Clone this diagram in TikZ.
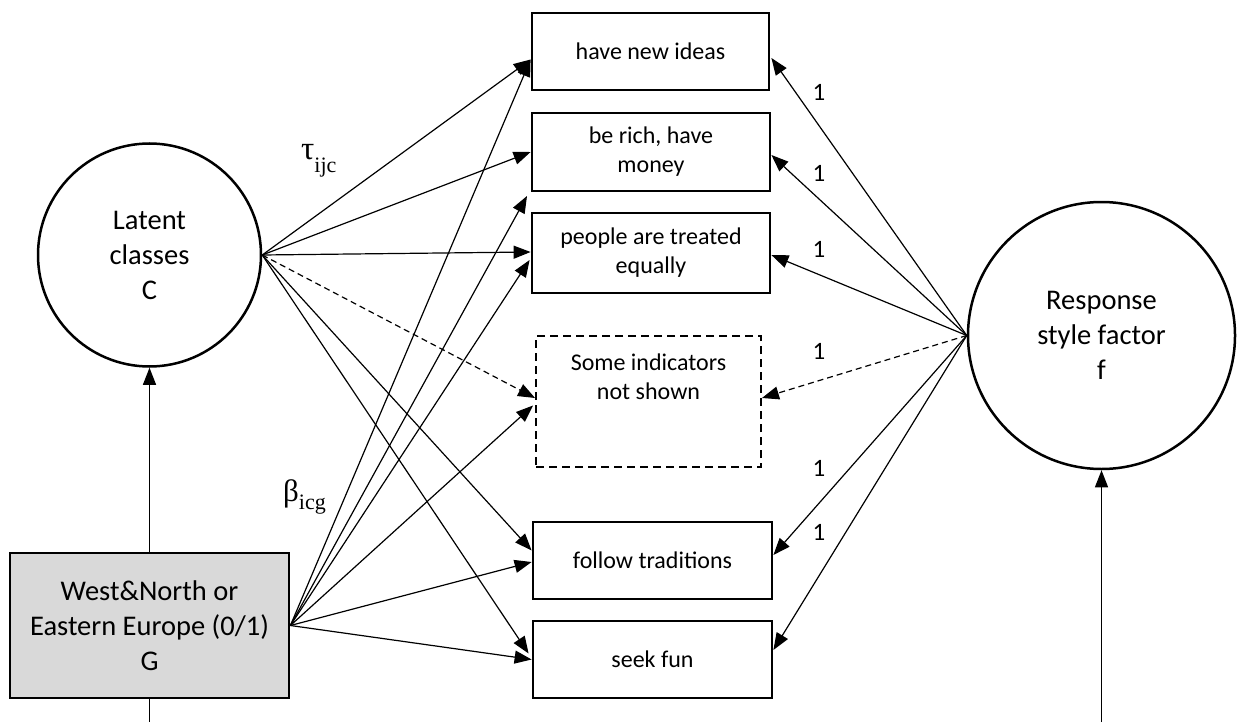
\documentclass[tikz,border=0pt]{standalone}
\usepackage{fontspec}
\setmainfont{Carlito}
\newfontfamily\serifgr{Liberation Serif}
\usetikzlibrary{arrows.meta}
\definecolor{gfill}{HTML}{D9D9D9}
\begin{document}
\begin{tikzpicture}[x=1pt,y=-1pt,
  itembox/.style={draw, line width=2.8pt, minimum width=237pt, minimum height=77pt, inner sep=0pt, align=center, font=\fontsize{24}{29}\selectfont},
  dashbox/.style={draw, line width=1.9pt, dash pattern=on 8pt off 5pt, minimum width=225pt, minimum height=131pt, inner sep=0pt},
  bigcirc/.style={draw, circle, line width=2.5pt, inner sep=0pt, align=center, font=\fontsize{28.5}{35}\selectfont},
  groupbox/.style={draw, line width=2.8pt, fill=gfill, minimum width=279pt, minimum height=145pt, inner sep=0pt, align=center, font=\fontsize{28.5}{35}\selectfont},
  arr/.style={-{Triangle[length=17pt,width=13pt]}, line width=1.2pt},
  darr/.style={arr, dash pattern=on 6pt off 4pt},
  one/.style={font=\fontsize{25}{29}\selectfont}
]
\useasboundingbox (0,0) rectangle (1238,722);

% latent nodes
\node[bigcirc, minimum size=223pt] (C) at (149.5,255) {Latent\\classes\\C};
\node[bigcirc, minimum size=267pt] (F) at (1101.5,335.5) {Response\\style factor\\f};
\node[groupbox] (G) at (149.5,625.5) {West\&North or\\Eastern Europe (0/1)\\G};

% indicators
\node[itembox] (b1) at (650.5,51.5) {have new ideas};
\node[itembox, minimum width=238pt, minimum height=78pt] (b2) at (651,152) {be rich, have\\money};
\node[itembox, minimum width=238pt, minimum height=80pt] (b3) at (651,253) {people are treated\\equally};
\node[dashbox] (b4) at (648.5,401.5) {};
\node[align=center, font=\fontsize{24}{29}\selectfont] (b4t) at (648.5,377) {Some indicators\\not shown};
\node[itembox, minimum width=239pt] (b5) at (652.5,560.5) {follow traditions};
\node[itembox, minimum width=239pt] (b6) at (652.5,659.5) {seek fun};

\coordinate (gbot) at (149.5,722);
\coordinate (fbot) at (1101.5,722);
\coordinate (b2low) at (527,196);

% C -> indicators
\draw[arr] (C.east) -- ([yshift=-8pt]b1.west);
\draw[arr] (C.east) -- (b2.west);
\draw[arr] (C.east) -- ([yshift=1pt]b3.west);
\draw[darr] (C.east) -- ([yshift=3.5pt]b4.west);
\draw[arr] (C.east) -- ([yshift=10pt]b5.west);
\draw[arr] (C.east) -- ([xshift=-3pt,yshift=6pt]b6.west);

% G -> indicators
\draw[arr] (G.east) -- ([yshift=-8pt]b1.west);
\draw[arr] (G.east) -- (b2low);
\draw[arr] (G.east) -- ([xshift=-1pt,yshift=-7pt]b3.west);
\draw[arr] (G.east) -- ([xshift=-2pt,yshift=-4pt]b4.west);
\draw[arr] (G.east) -- ([yshift=-1.5pt]b5.west);
\draw[arr] (G.east) -- ([yshift=0pt]b6.west);

% G -> C and G line below
\draw[arr] (G.north) -- (C.south);
\draw[line width=1.2pt] (G.south) -- (gbot);

% F -> indicators
\draw[arr] (F.west) -- ([xshift=1pt,yshift=-6.5pt]b1.east);
\draw[arr] (F.west) -- ([yshift=-3pt]b2.east);
\draw[arr] (F.west) -- ([yshift=-2pt]b3.east);
\draw[darr] (F.west) -- ([yshift=3.5pt]b4.east);
\draw[arr] (F.west) -- ([yshift=5.5pt]b5.east);
\draw[arr] (F.west) -- ([yshift=9.5pt]b6.east);
\draw[arr] (fbot) -- (F.south);

% loading labels
\node[one] (l1) at (819,92) {1};
\node[one] (l2) at (819,173) {1};
\node[one] (l3) at (819,249) {1};
\node[one] (l4) at (819,351) {1};
\node[one] (l5) at (819,468) {1};
\node[one] (l6) at (819,532) {1};

% parameter labels
\node[anchor=base west, inner sep=0pt] (tau) at (301,160) {\serifgr\fontsize{33}{36}\selectfont τ\raisebox{-13pt}{\fontsize{22}{24}\selectfont ijc}};
\node[anchor=base west, inner sep=0pt] (beta) at (283,501) {\serifgr\fontsize{31}{34}\selectfont β\raisebox{-8pt}{\fontsize{22}{24}\selectfont icg}};
\end{tikzpicture}
\end{document}
